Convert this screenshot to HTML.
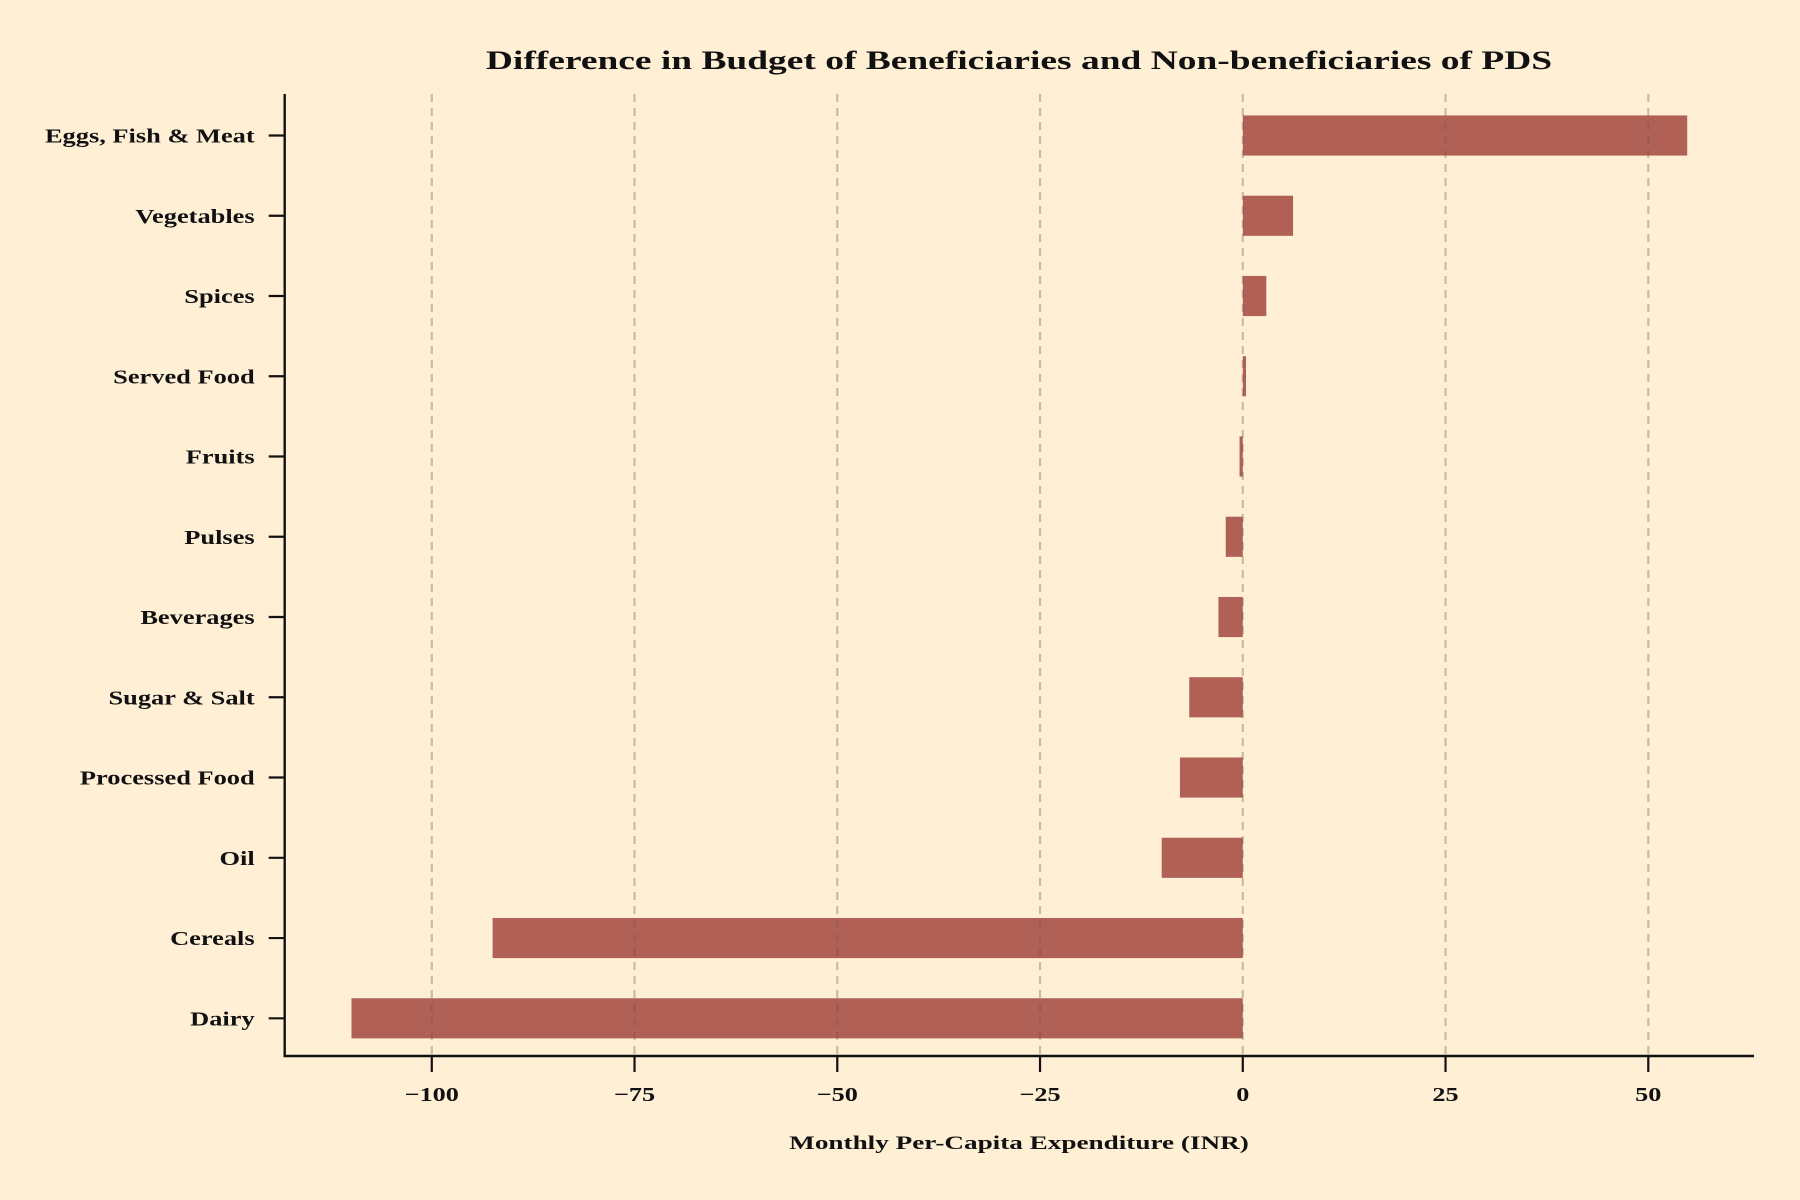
<!DOCTYPE html>
<html><head><meta charset="utf-8"><style>
html,body{margin:0;padding:0;background:#ffefd5;}
svg{display:block;font-family:"Liberation Serif",serif;}
</style></head><body>
<svg id="chart" width="1800" height="1200" viewBox="0 0 1800 1200" xmlns="http://www.w3.org/2000/svg">
<rect x="0" y="0" width="1800" height="1200" fill="#ffefd5"/>
<text id="title" x="1019" y="69" text-anchor="middle" font-size="26" font-weight="bold" fill="#111">Difference in Budget of Beneficiaries and Non-beneficiaries of PDS</text>
<text id="xtitle" x="1019" y="1149" text-anchor="middle" font-size="19" font-weight="bold" fill="#111">Monthly Per-Capita Expenditure (INR)</text>
<g id="bars"></g><g id="grid"></g><g id="axes"></g>
</svg>
<script>
const categories = ["Eggs, Fish & Meat","Vegetables","Spices","Served Food","Fruits","Pulses","Beverages","Sugar & Salt","Processed Food","Oil","Cereals","Dairy"];
const values = [54.8, 6.2, 2.9, 0.4, -0.4, -2.1, -3.0, -6.6, -7.75, -10.0, -92.5, -109.9];
const xTicks = [-100, -75, -50, -25, 0, 25, 50];
const xTickLabels = ["\u2212100","\u221275","\u221250","\u221225","0","25","50"];

const NS = "http://www.w3.org/2000/svg";
const L = 284.7, R = 1754, T = 94, B = 1056;
const minV = Math.min(0, ...values), maxV = Math.max(0, ...values);
const pad = (maxV - minV) * 0.05;
const x0 = minV - pad, x1 = maxV + pad;
function xs(v){ return L + (v - x0) / (x1 - x0) * (R - L); }
const n = categories.length;
const step = (1018.3 - 135.5) / (n - 1);
function ys(i){ return 135.5 + i * step; }
const barH = step * 0.5;

function mk(tag, attrs, parent){ const e = document.createElementNS(NS, tag); for (const k in attrs) e.setAttribute(k, attrs[k]); parent.appendChild(e); return e; }
function widen(el, f){ const w = el.getComputedTextLength(); if (w > 0){ el.setAttribute('textLength', w * f); el.setAttribute('lengthAdjust', 'spacingAndGlyphs'); } }
const bars = document.getElementById('bars'), grid = document.getElementById('grid'), axes = document.getElementById('axes');

values.forEach((v, i) => {
  const a = xs(Math.min(0, v)), b = xs(Math.max(0, v));
  const r = mk('rect', {x: a, y: ys(i) - barH/2, width: Math.max(b - a, 0.5), height: barH, fill: '#b06055'}, bars);
  
  
});

xTicks.forEach((t, i) => {
  const x = xs(t);
  const g = mk('line', {x1: x, x2: x, y1: T, y2: B, stroke: 'rgba(110,90,70,0.35)', 'stroke-width': 2.2, 'stroke-dasharray': '8 6'}, grid);
  
  
  const tk = mk('line', {x1: x, x2: x, y1: B, y2: B + 16, stroke: '#111', 'stroke-width': 2.2}, axes);
  
  
  const lb = mk('text', {x: x, y: B + 45, 'text-anchor': 'middle', 'font-size': 20, 'font-weight': 'bold', fill: '#111'}, axes);
  lb.textContent = xTickLabels[i];
  
  
  widen(lb, 1.31);
});

categories.forEach((c, i) => {
  const y = ys(i);
  const tk = mk('line', {x1: L - 16, x2: L, y1: y, y2: y, stroke: '#111', 'stroke-width': 2.2}, axes);
  
  
  const lb = mk('text', {x: L - 30, y: y + 7, 'text-anchor': 'end', 'font-size': 20, 'font-weight': 'bold', fill: '#111'}, axes);
  lb.textContent = c;
  
  
  widen(lb, 1.32);
});

widen(document.getElementById('title'), 1.44);
widen(document.getElementById('xtitle'), 1.43);

const ls = mk('line', {x1: L, x2: L, y1: T, y2: B + 1, stroke: '#111', 'stroke-width': 2.4}, axes);


const bs = mk('line', {x1: L - 1, x2: R, y1: B, y2: B, stroke: '#111', 'stroke-width': 2.4}, axes);


</script>
</body></html>
